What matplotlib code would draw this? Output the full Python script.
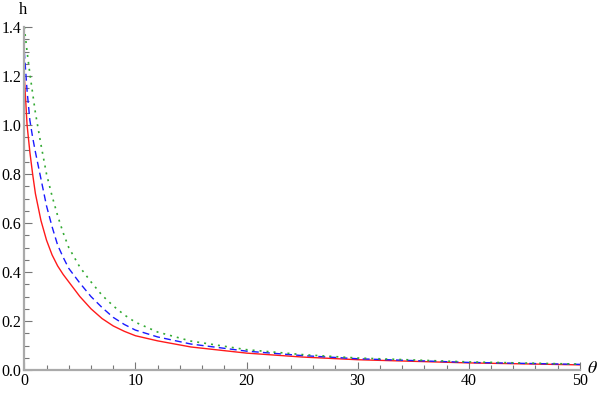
import matplotlib.pyplot as plt
from matplotlib.ticker import MultipleLocator

# values
theta = [0, 0.25, 0.5, 0.75, 1, 1.5, 2, 2.5, 3, 3.5, 4, 5, 6, 7, 8, 9, 10, 12, 15, 20, 25, 30, 40, 50]
h_red = [1.20, 1.00, 0.89, 0.80, 0.72, 0.61, 0.53, 0.47, 0.425, 0.39, 0.36, 0.30, 0.25, 0.21, 0.18,
         0.158, 0.14, 0.119, 0.094, 0.069, 0.053, 0.042, 0.029, 0.021]
h_blue = [1.30, 1.14, 1.02, 0.95, 0.89, 0.78, 0.67, 0.585, 0.51, 0.46, 0.415, 0.355, 0.30, 0.255,
          0.215, 0.186, 0.163, 0.135, 0.106, 0.077, 0.059, 0.046, 0.031, 0.023]
h_green = [1.40, 1.30, 1.21, 1.13, 1.05, 0.92, 0.80, 0.71, 0.63, 0.56, 0.50, 0.42, 0.36, 0.305,
           0.262, 0.225, 0.195, 0.155, 0.118, 0.083, 0.063, 0.049, 0.033, 0.024]

plt.rcParams['font.family'] = ['Liberation Serif', 'DejaVu Serif']
plt.rcParams['mathtext.fontset'] = 'stix'

fig = plt.figure(figsize=(6, 3.93), dpi=100)
ax = fig.add_axes([0.0405, 0.0585, 0.926, 0.8725])

ax.plot(theta, h_red, color='#ff1a1a', lw=1.0)
ax.plot(theta, h_blue, color='#1a1aff', lw=1.0, dashes=(5, 3))
ax.plot(theta, h_green, color='#33aa33', lw=1.2, dashes=(1.2, 3))

ax.set_xlim(0, 50)
ax.set_ylim(0, 1.4)
for s in ['top', 'right']:
    ax.spines[s].set_visible(False)
for s in ['left', 'bottom']:
    ax.spines[s].set_color('#aaaaaa')
    ax.spines[s].set_linewidth(1.6)

ax.xaxis.set_major_locator(MultipleLocator(10))
ax.xaxis.set_minor_locator(MultipleLocator(2))
ax.yaxis.set_major_locator(MultipleLocator(0.2))
ax.yaxis.set_minor_locator(MultipleLocator(0.05))
ax.yaxis.set_major_formatter(plt.FuncFormatter(lambda v, p: f"{v:.1f}"))
ax.tick_params(which='major', direction='in', length=6, width=0.8, color='#777777',
               labelsize=11.5, pad=2)
ax.tick_params(which='minor', direction='in', length=3.5, width=0.8, color='#777777')

fig.text(0.038, 0.975, 'h', fontsize=12, ha='center', va='center')
fig.text(0.988, 0.062, r'$\theta$', fontsize=13, ha='center', va='center')

fig.savefig('out.png', dpi=100)
